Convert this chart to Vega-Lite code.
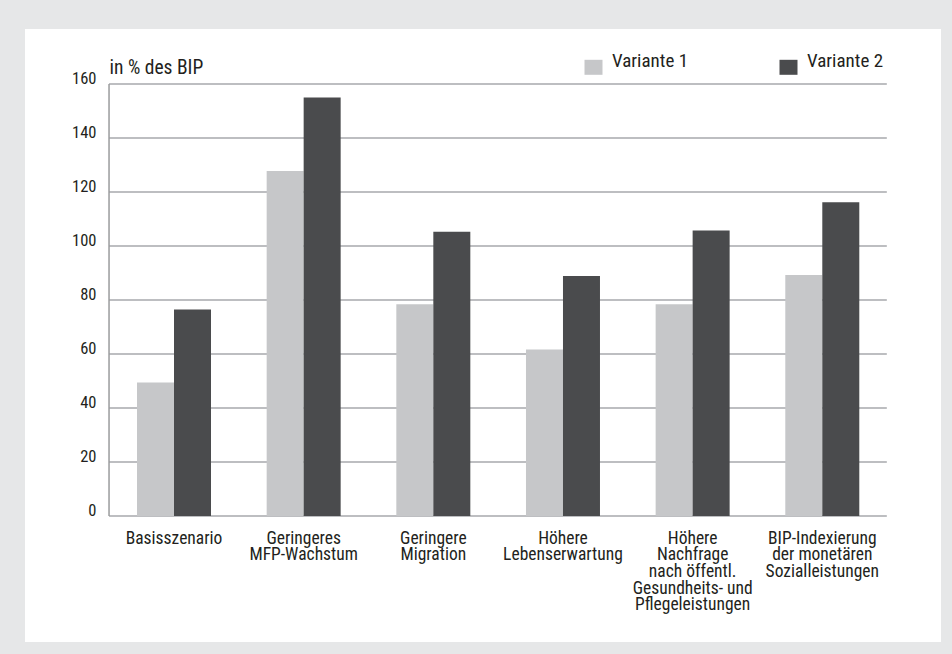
{
  "$schema": "https://vega.github.io/schema/vega-lite/v6.json",
  "width": 916,
  "height": 613,
  "autosize": {"type": "none"},
  "padding": {"left": 25, "top": 29, "right": 11, "bottom": 12},
  "background": "#e6e7e8",
  "config": {
    "view": {"fill": "white", "stroke": null},
    "font": "Roboto Condensed, Liberation Sans Narrow, DejaVu Sans Condensed, sans-serif",
    "axis": {"labelFont": "Roboto Condensed, Liberation Sans Narrow, DejaVu Sans Condensed, sans-serif", "titleFont": "Roboto Condensed, Liberation Sans Narrow, DejaVu Sans Condensed, sans-serif"},
    "legend": {"labelFont": "Roboto Condensed, Liberation Sans Narrow, DejaVu Sans Condensed, sans-serif"}
  },
  "datasets": {
    "bars": [
      {"Szenario": "Basisszenario", "Variante": "Variante 1", "Wert": 49.4},
      {"Szenario": "Basisszenario", "Variante": "Variante 2", "Wert": 76.5},
      {"Szenario": "Geringeres MFP-Wachstum", "Variante": "Variante 1", "Wert": 127.8},
      {"Szenario": "Geringeres MFP-Wachstum", "Variante": "Variante 2", "Wert": 155.0},
      {"Szenario": "Geringere Migration", "Variante": "Variante 1", "Wert": 78.4},
      {"Szenario": "Geringere Migration", "Variante": "Variante 2", "Wert": 105.3},
      {"Szenario": "Höhere Lebenserwartung", "Variante": "Variante 1", "Wert": 61.7},
      {"Szenario": "Höhere Lebenserwartung", "Variante": "Variante 2", "Wert": 88.9},
      {"Szenario": "Höhere Nachfrage nach öffentl. Gesundheits- und Pflegeleistungen", "Variante": "Variante 1", "Wert": 78.4},
      {"Szenario": "Höhere Nachfrage nach öffentl. Gesundheits- und Pflegeleistungen", "Variante": "Variante 2", "Wert": 105.7},
      {"Szenario": "BIP-Indexierung der monetären Sozialleistungen", "Variante": "Variante 1", "Wert": 89.3},
      {"Szenario": "BIP-Indexierung der monetären Sozialleistungen", "Variante": "Variante 2", "Wert": 116.2}
    ],
    "grid": [
      {"v": 0}, {"v": 20}, {"v": 40}, {"v": 60}, {"v": 80}, {"v": 100}, {"v": 120}, {"v": 140}, {"v": 160}
    ]
  },
  "layer": [
    {
      "data": {"name": "grid"},
      "mark": {"type": "rule", "color": "#a7a9ac", "strokeWidth": 1.5},
      "encoding": {
        "y": {"field": "v", "type": "quantitative"},
        "x": {"datum": "Basisszenario", "bandPosition": -0.378},
        "x2": {"datum": "BIP-Indexierung der monetären Sozialleistungen", "bandPosition": 1.372}
      }
    },
    {
      "data": {"name": "grid"},
      "transform": [{"filter": "datum.v == 0"}],
      "mark": {"type": "rule", "color": "#9a9b9d", "strokeWidth": 1.5},
      "encoding": {
        "x": {"datum": "Basisszenario", "bandPosition": -0.378},
        "y": {"datum": 0, "type": "quantitative"},
        "y2": {"datum": 160}
      }
    },
    {
      "data": {"name": "bars"},
      "mark": {"type": "bar"},
      "encoding": {
        "x": {
          "field": "Szenario",
          "type": "nominal",
          "sort": null,
          "scale": {
            "domain": ["Basisszenario", "Geringeres MFP-Wachstum", "Geringere Migration", "Höhere Lebenserwartung", "Höhere Nachfrage nach öffentl. Gesundheits- und Pflegeleistungen", "BIP-Indexierung der monetären Sozialleistungen"],
            "paddingInner": 0.4293, "paddingOuter": 0.747, "align": 0.5782
          },
          "axis": {
            "title": null,
            "orient": "bottom",
            "offset": -126,
            "domain": false,
            "ticks": false,
            "grid": false,
            "labelAngle": 0,
            "labelAlign": "center",
            "labelBaseline": "top",
            "labelPadding": 13,
            "labelFontSize": 17.5,
            "labelLineHeight": 16.7,
            "labelColor": "#231f20",
            "labelLimit": 300,
            "labelExpr": "{'Basisszenario': 'Basisszenario', 'Geringeres MFP-Wachstum': ['Geringeres', 'MFP-Wachstum'], 'Geringere Migration': ['Geringere', 'Migration'], 'Höhere Lebenserwartung': ['Höhere', 'Lebenserwartung'], 'Höhere Nachfrage nach öffentl. Gesundheits- und Pflegeleistungen': ['Höhere', 'Nachfrage', 'nach öffentl.', 'Gesundheits- und', 'Pflegeleistungen'], 'BIP-Indexierung der monetären Sozialleistungen': ['BIP-Indexierung', 'der monetären', 'Sozialleistungen']}[datum.label]"
          }
        },
        "xOffset": {"field": "Variante", "type": "nominal", "scale": {"paddingInner": 0, "paddingOuter": 0}},
        "y": {
          "field": "Wert",
          "type": "quantitative",
          "scale": {"domain": [-46.67, 180.37], "nice": false, "zero": false},
          "axis": {
            "orient": "left",
            "offset": -84,
            "values": [0, 20, 40, 60, 80, 100, 120, 140, 160],
            "domain": false,
            "ticks": false,
            "grid": false,
            "labelPadding": 13,
            "labelFontSize": 16.5,
            "labelBaseline": "alphabetic",
            "labelColor": "#231f20",
            "title": "in % des BIP",
            "titleAngle": 0,
            "titleAlign": "left",
            "titleBaseline": "alphabetic",
            "titleX": 0,
            "titleY": 44,
            "titleFontSize": 19.5,
            "titleFontWeight": "normal",
            "titleColor": "#231f20"
          }
        },
        "color": {
          "field": "Variante",
          "type": "nominal",
          "scale": {"domain": ["Variante 1", "Variante 2"], "range": ["#c6c7c9", "#4a4b4d"]},
          "legend": {
            "title": null,
            "orient": "none",
            "legendX": 559,
            "legendY": 28.8,
            "direction": "horizontal",
            "padding": 0,
            "symbolType": "M-1,-0.833H1V0.833H-1Z",
            "symbolSize": 324,
            "symbolStrokeWidth": 0,
            "symbolOpacity": 1,
            "labelOffset": 9,
            "labelFontSize": 19,
            "labelBaseline": "alphabetic",
            "labelColor": "#231f20",
            "columnPadding": 90
          }
        }
      }
    }
  ]
}
